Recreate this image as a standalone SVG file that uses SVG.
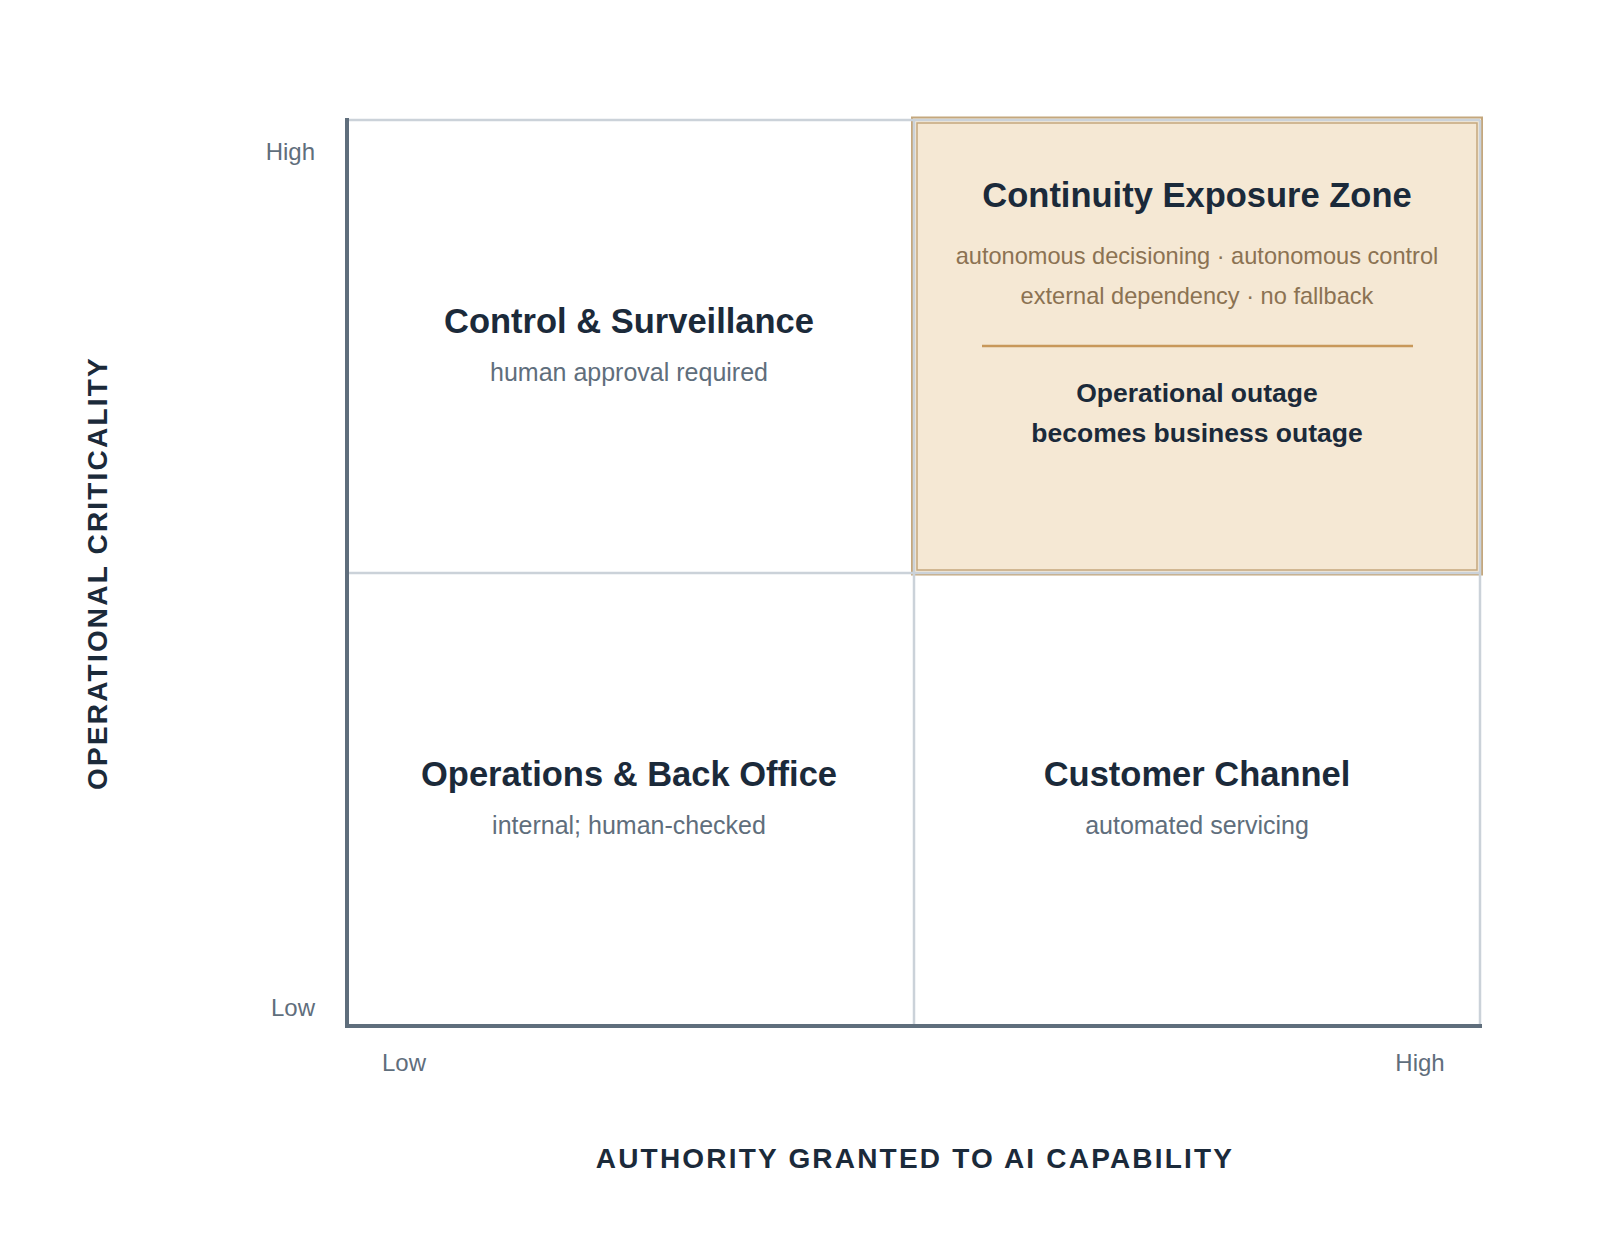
<svg xmlns="http://www.w3.org/2000/svg" width="1600" height="1253" viewBox="0 0 1600 1253">
<style>
text{font-family:"Liberation Sans",Arial,sans-serif;}
.title{font-size:34.5px;font-weight:bold;fill:#1b2a3a;text-anchor:middle;}
.sub{font-size:25px;fill:#5f6e7c;text-anchor:middle;}
.zsub{font-size:23.6px;fill:#8b7252;text-anchor:middle;}
.zbold{font-size:26.5px;font-weight:bold;fill:#1b2a3a;text-anchor:middle;}
.tick{font-size:24px;fill:#5f6e7c;}
.axis{font-size:28px;font-weight:bold;fill:#1b2a3a;text-anchor:middle;letter-spacing:2.2px;}
.grid{stroke:#cbd2d9;stroke-width:2.5;fill:none;}
.ax{stroke:#5f6e7c;stroke-width:4;fill:none;stroke-linecap:square;}
</style>
<rect width="1600" height="1253" fill="#ffffff"/>
<g id="zone-highlight">
<rect x="912" y="117.5" width="570" height="457" fill="#f5e8d4" stroke="#c4a77d" stroke-width="2"/>
</g>
<g id="grid">
<line class="grid" x1="347" y1="120" x2="1480" y2="120"/>
<line class="grid" x1="347" y1="573" x2="1480" y2="573"/>
<line class="grid" x1="914" y1="120" x2="914" y2="1026"/>
<line class="grid" x1="1480" y1="120" x2="1480" y2="1026"/>
</g>
<g id="zone-inner">
<rect x="917" y="123" width="560" height="447" fill="none" stroke="#c4a77d" stroke-width="1.5"/>
</g>
<g id="axes">
<line class="ax" x1="347" y1="120" x2="347" y2="1026"/>
<line class="ax" x1="347" y1="1026" x2="1480" y2="1026"/>
</g>
<g id="ticks">
<text class="tick" x="315" y="160" text-anchor="end">High</text>
<text class="tick" x="315" y="1016" text-anchor="end">Low</text>
<text class="tick" x="404" y="1071" text-anchor="middle">Low</text>
<text class="tick" x="1420" y="1071" text-anchor="middle">High</text>
</g>
<g id="axis-titles">
<text class="axis" transform="translate(107,573) rotate(-90)">OPERATIONAL CRITICALITY</text>
<text class="axis" x="915" y="1168">AUTHORITY GRANTED TO AI CAPABILITY</text>
</g>
<g id="control-surveillance">
<text class="title" x="629" y="333">Control &amp; Surveillance</text>
<text class="sub" x="629" y="381">human approval required</text>
</g>
<g id="operations-back-office">
<text class="title" x="629" y="786">Operations &amp; Back Office</text>
<text class="sub" x="629" y="834">internal; human-checked</text>
</g>
<g id="customer-channel">
<text class="title" x="1197" y="786">Customer Channel</text>
<text class="sub" x="1197" y="834">automated servicing</text>
</g>
<g id="continuity-exposure-zone">
<text class="title" x="1197" y="207">Continuity Exposure Zone</text>
<text class="zsub" x="1197" y="264">autonomous decisioning · autonomous control</text>
<text class="zsub" x="1197" y="304">external dependency · no fallback</text>
<line x1="982" y1="346" x2="1413" y2="346" stroke="#c8985a" stroke-width="2.5"/>
<text class="zbold" x="1197" y="402">Operational outage</text>
<text class="zbold" x="1197" y="442">becomes business outage</text>
</g>
</svg>
